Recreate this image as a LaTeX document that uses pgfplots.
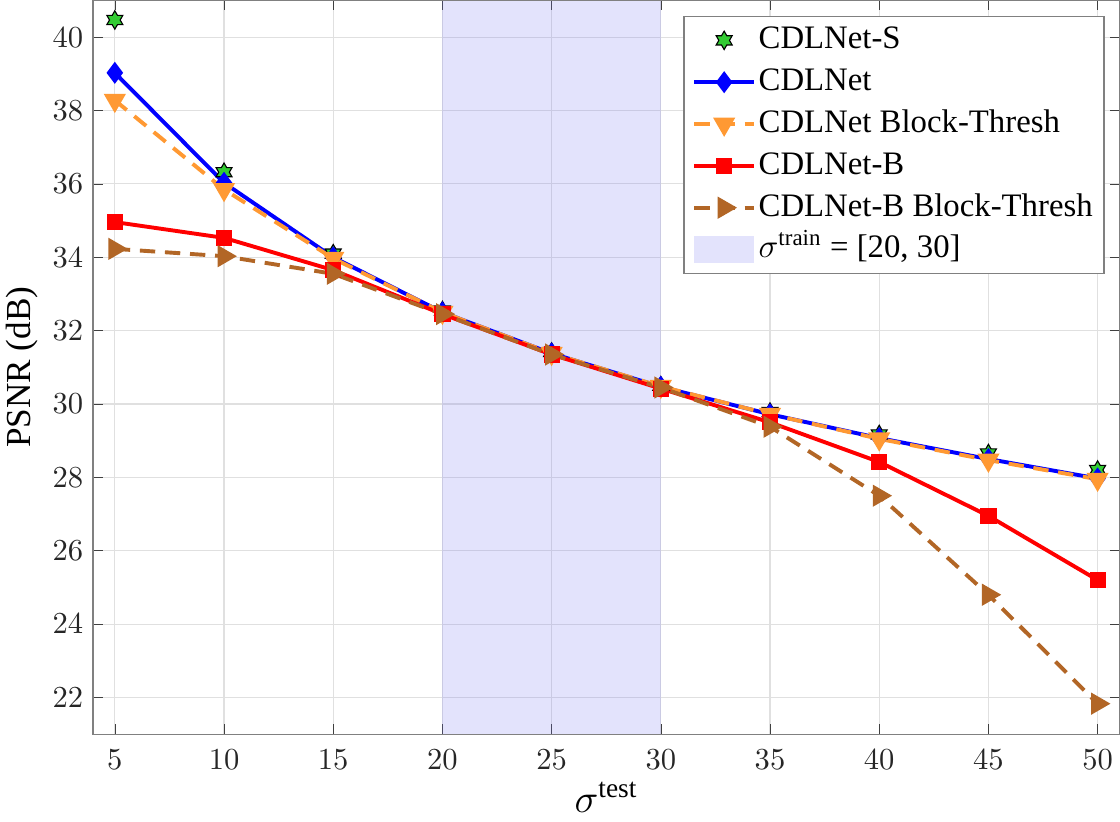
\documentclass[border=0pt]{standalone}
\usepackage[no-math]{fontspec}
\setmainfont{Liberation Serif}
\usepackage{amsmath}
\usepackage{pgfplots}
\pgfplotsset{compat=1.18}

\definecolor{cgreen}{rgb}{0.2,0.8,0.2}
\definecolor{corange}{rgb}{1,0.6,0.2}
\definecolor{cbrown}{rgb}{0.7,0.4,0.15}
\definecolor{cshade}{rgb}{0.45,0.45,0.95}

% six-pointed star, like MATLAB's hexagram marker
\pgfdeclareplotmark{hexagram}{%
  \pgfpathmoveto{\pgfpointpolar{90}{\pgfplotmarksize}}%
  \pgfpathlineto{\pgfpointpolar{120}{0.577\pgfplotmarksize}}%
  \pgfpathlineto{\pgfpointpolar{150}{\pgfplotmarksize}}%
  \pgfpathlineto{\pgfpointpolar{180}{0.577\pgfplotmarksize}}%
  \pgfpathlineto{\pgfpointpolar{210}{\pgfplotmarksize}}%
  \pgfpathlineto{\pgfpointpolar{240}{0.577\pgfplotmarksize}}%
  \pgfpathlineto{\pgfpointpolar{270}{\pgfplotmarksize}}%
  \pgfpathlineto{\pgfpointpolar{300}{0.577\pgfplotmarksize}}%
  \pgfpathlineto{\pgfpointpolar{330}{\pgfplotmarksize}}%
  \pgfpathlineto{\pgfpointpolar{0}{0.577\pgfplotmarksize}}%
  \pgfpathlineto{\pgfpointpolar{30}{\pgfplotmarksize}}%
  \pgfpathlineto{\pgfpointpolar{60}{0.577\pgfplotmarksize}}%
  \pgfpathclose
  \pgfusepathqfillstroke
}

\pgfplotsset{
  linelegend/.style={legend image code/.code={
    \draw[mark repeat=2, mark phase=2, ##1]
      plot coordinates {(0cm,0cm) (0.375cm,0cm) (0.75cm,0cm)};}},
  marklegend/.style={legend image code/.code={
    \draw[##1] plot coordinates {(0.375cm,0cm)};}},
  boxlegend/.style={legend image code/.code={
    \fill[##1] (0cm,-0.17cm) rectangle (0.75cm,0.17cm);}},
}

\begin{document}
\begin{tikzpicture}
  \begin{axis}[
      scale only axis,
      width=368pt, height=263pt,
      xmin=4, xmax=51, ymin=21, ymax=41,
      xtick={5,10,...,50},
      ytick={22,24,...,40},
      tick align=inside,
      major tick length=3.5pt,
      grid=major,
      major grid style={black!12, line width=0.4pt},
      axis line style={black!50},
      tick style={black!75},
      ticklabel style={font=\fontsize{11}{13}\selectfont, text=black!85},
      xticklabel style={inner sep=1pt, yshift=-4.5pt},
      xlabel={$\sigma^{\text{test}}$},
      xlabel style={font=\fontsize{14}{16}\selectfont},
      ylabel={PSNR (dB)},
      ylabel style={font=\fontsize{12.6}{15}\selectfont, inner sep=2.2pt},
      ylabel shift=-0.5pt,
      legend cell align=left,
      legend style={
        at={(0.9855,0.979)}, anchor=north east,
        draw=black!50, line width=0.5pt,
        font=\fontsize{11.75}{14}\selectfont,
        row sep=2pt,
        nodes={inner sep=1pt, text height=8.5pt, text depth=2.5pt},
      },
      linelegend,
    ]

    % training noise band
    \addplot[draw=none, fill=cshade, fill opacity=0.2, forget plot]
      coordinates {(20,41) (30,41)} \closedcycle;

    \addplot[only marks, mark=hexagram, mark size=3.3pt,
      mark options={fill=cgreen, draw=black, line width=0.4pt}, marklegend]
      coordinates {
        (5,40.47) (10,36.32) (15,34.10) (20,32.55) (25,31.42)
        (30,30.50) (35,29.78) (40,29.17) (45,28.65) (50,28.20)
      };
    \addlegendentry{CDLNet-S}

    \addplot[blue, line width=1.4pt, mark=diamond*, mark size=2.8pt]
      coordinates {
        (5,39.03) (10,36.03) (15,34.00) (20,32.50) (25,31.38)
        (30,30.47) (35,29.72) (40,29.07) (45,28.50) (50,27.97)
      };
    \addlegendentry{CDLNet}

    \addplot[corange, line width=1.4pt, dash pattern=on 5.5pt off 3.5pt,
      mark=triangle*, mark size=3.2pt, mark options={solid, rotate=180}]
      coordinates {
        (5,38.28) (10,35.85) (15,33.97) (20,32.50) (25,31.38)
        (30,30.48) (35,29.72) (40,29.05) (45,28.47) (50,27.95)
      };
    \addlegendentry{CDLNet Block-Thresh}

    \addplot[red, line width=1.4pt, mark=square*, mark size=2.2pt]
      coordinates {
        (5,34.96) (10,34.53) (15,33.65) (20,32.45) (25,31.35)
        (30,30.42) (35,29.50) (40,28.42) (45,26.95) (50,25.20)
      };
    \addlegendentry{CDLNet-B}

    \addplot[cbrown, line width=1.4pt, dash pattern=on 5.5pt off 3.5pt,
      mark=triangle*, mark size=3.2pt, mark options={solid, rotate=-90}]
      coordinates {
        (5,34.23) (10,34.03) (15,33.55) (20,32.45) (25,31.35)
        (30,30.45) (35,29.38) (40,27.50) (45,24.80) (50,21.83)
      };
    \addlegendentry{CDLNet-B Block-Thresh}

    \addlegendimage{draw=none, fill=cshade, fill opacity=0.2, boxlegend}
    \addlegendentry{$\sigma^{\text{train}}$ = [20, 30]}
  \end{axis}
\end{tikzpicture}
\end{document}
